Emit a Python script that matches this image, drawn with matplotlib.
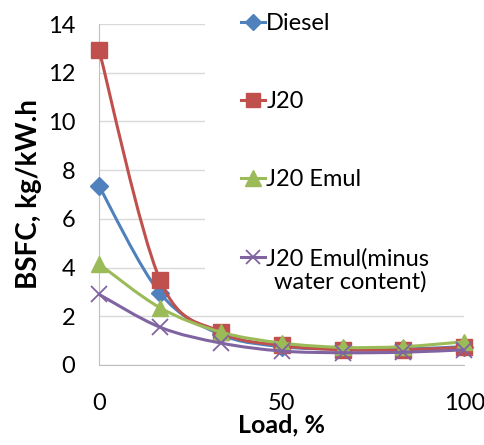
import matplotlib.pyplot as plt
import numpy as np
from matplotlib.path import Path
from matplotlib.patches import PathPatch, Rectangle
from matplotlib.lines import Line2D

plt.rcParams['font.family'] = ['Lato', 'DejaVu Sans']

# Dane
load = [0, 16.7, 33.3, 50, 66.7, 83.3, 100]
diesel = [7.35, 2.95, 1.25, 0.75, 0.65, 0.65, 0.75]
j20 = [12.95, 3.5, 1.35, 0.8, 0.62, 0.62, 0.72]
j20_emul = [4.15, 2.35, 1.35, 0.9, 0.72, 0.75, 0.95]
j20_emul_dry = [2.9, 1.55, 0.9, 0.57, 0.5, 0.52, 0.62]

names = ['Diesel', 'J20', 'J20 Emul', 'J20 Emul(minus']
extra_line = 'water content)'
colors = ['#4F81BD', '#C0504D', '#9BBB59', '#8064A2']
markers = ['D', 's', '^', 'x']
msizes = [9.5, 11, 12, 11]


def smooth_path(x, y):
    # krzywa Beziera jak "wygładzona linia" w Excelu (Catmull-Rom)
    x = np.asarray(x, float)
    y = np.asarray(y, float)
    n = len(x)
    verts = [(x[0], y[0])]
    codes = [Path.MOVETO]
    for i in range(n - 1):
        i0 = max(i - 1, 0)
        i3 = min(i + 2, n - 1)
        c1 = (x[i] + (x[i + 1] - x[i0]) / 6, y[i] + (y[i + 1] - y[i0]) / 6)
        c2 = (x[i + 1] - (x[i3] - x[i]) / 6, y[i + 1] - (y[i3] - y[i]) / 6)
        verts += [c1, c2, (x[i + 1], y[i + 1])]
        codes += [Path.CURVE4] * 3
    return Path(verts, codes)


fig = plt.figure(figsize=(4.85, 4.45), dpi=100)
ax = fig.add_axes([0.204, 0.180, 0.753, 0.766])

series = [diesel, j20, j20_emul, j20_emul_dry]
handles = []
for k, vals in enumerate(series):
    ax.add_patch(PathPatch(smooth_path(load, vals), facecolor='none',
                           edgecolor=colors[k], lw=2.2, zorder=3 + k,
                           clip_on=False))
    mew = 1.3 if markers[k] == 'x' else 1
    ax.plot(load, vals, linestyle='none', marker=markers[k], ms=msizes[k],
            color=colors[k], mew=mew, zorder=3 + k, clip_on=False)
    handles.append(Line2D([], [], color=colors[k], lw=2.2, marker=markers[k],
                          ms=msizes[k] - 1, mew=mew))

ax.set_xlim(0, 100)
ax.set_ylim(0, 14)
ax.set_xticks([0, 50, 100])
ax.set_yticks(range(0, 15, 2))
ax.grid(axis='y', color='#D9D9D9', lw=1)
ax.set_axisbelow(True)
for s in ['top', 'right']:
    ax.spines[s].set_visible(False)
for s in ['left', 'bottom']:
    ax.spines[s].set_color('#BFBFBF')
ax.tick_params(length=0, labelsize=17)
ax.tick_params(axis='y', pad=17)
ax.tick_params(axis='x', pad=20)
ax.set_xlabel('Load, %', fontsize=18, fontweight='bold', labelpad=0)
ax.set_ylabel('BSFC, kg/kW.h', fontsize=20, fontweight='bold', labelpad=4)

# białe tło legendy zasłaniające siatkę
ax.add_patch(Rectangle((0.29, 0.22), 0.75, 0.8, transform=ax.transAxes,
                       facecolor='white', edgecolor='none', zorder=1.5,
                       clip_on=False))

leg = fig.legend(handles, names, loc='upper left',
                 bbox_to_anchor=(0.488, 0.981), frameon=False, fontsize=17,
                 handlelength=1.0, handletextpad=0.05, labelspacing=2.42,
                 borderpad=0.2, borderaxespad=0)

fig.canvas.draw()
bb = leg.get_texts()[3].get_window_extent()
bb = bb.transformed(fig.transFigure.inverted())
fig.text((bb.x0 + bb.x1) / 2 + 0.006, bb.y0 - 0.005, extra_line, fontsize=17,
         ha='center', va='top')

fig.savefig('out.png', dpi=100)
